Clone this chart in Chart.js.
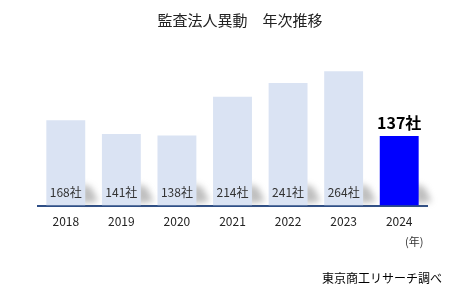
<!DOCTYPE html>
<html>
<head>
<meta charset="utf-8">
<script src="https://cdn.jsdelivr.net/npm/chart.js@4"></script>
<style>
  body { margin: 0; background: #fff; }
  #wrap { width: 465px; height: 296px; }
</style>
</head>
<body>
<div id="wrap"><canvas id="myChart" width="465" height="296"></canvas></div>
<script>
var years = ["2018", "2019", "2020", "2021", "2022", "2023", "2024"];
var counts = [168, 141, 138, 214, 241, 264, 137];
var unit = "社";
var barColors = ["#dae3f3", "#dae3f3", "#dae3f3", "#dae3f3", "#dae3f3", "#dae3f3", "#0000ff"];
var titleText = "監査法人異動　年次推移";
var sourceText = "東京商工リサーチ調べ";

var fontName = "'Noto Sans CJK JP', 'Noto Sans', sans-serif";

// soft grey shadow at the foot of every bar
var shadowPlugin = {
  id: "shadow",
  beforeDatasetsDraw: function (chart) {
    var ctx = chart.ctx;
    var meta = chart.getDatasetMeta(0);
    var base = chart.scales.y.getPixelForValue(0);
    ctx.save();
    ctx.filter = "blur(3px)";
    meta.data.forEach(function (bar) {
      var right = bar.x + bar.width / 2;
      ctx.fillStyle = "rgba(110,110,110,0.45)";
      ctx.beginPath();
      ctx.moveTo(right - 4, base - 22);
      ctx.lineTo(right + 6, base - 18);
      ctx.lineTo(right + 13, base - 4);
      ctx.lineTo(right - 4, base - 2);
      ctx.closePath();
      ctx.fill();
    });
    ctx.restore();
  }
};

var labelPlugin = {
  id: "labels",
  afterDatasetsDraw: function (chart) {
    var ctx = chart.ctx;
    var meta = chart.getDatasetMeta(0);
    var base = chart.scales.y.getPixelForValue(0);
    ctx.save();
    ctx.textAlign = "center";
    ctx.textBaseline = "middle";
    meta.data.forEach(function (bar, i) {
      if (i === counts.length - 1) {
        ctx.font = "bold 16px " + fontName;
        ctx.fillStyle = "#000";
        ctx.fillText(counts[i] + unit, bar.x, bar.y - 13);
      } else {
        ctx.font = "12px " + fontName;
        ctx.fillStyle = "#333";
        ctx.fillText(counts[i] + unit, bar.x, base - 13);
      }
    });
    ctx.font = "15px " + fontName;
    ctx.fillStyle = "#222";
    ctx.fillText(titleText, 240, 20);
    ctx.font = "11px " + fontName;
    ctx.fillStyle = "#333";
    ctx.fillText("(年)", meta.data[6].x + 15, base + 36);
    ctx.font = "12px " + fontName;
    ctx.fillStyle = "#000";
    ctx.textAlign = "right";
    ctx.fillText(sourceText, 442, 278);
    ctx.restore();
  }
};

var chart = new Chart(document.getElementById("myChart").getContext("2d"), {
  type: "bar",
  data: {
    labels: years,
    datasets: [{
      data: counts,
      backgroundColor: barColors,
      barPercentage: 0.7,
      categoryPercentage: 1.0
    }]
  },
  options: {
    responsive: false,
    animation: false,
    layout: { padding: { left: 38, right: 38, top: 53, bottom: 58 } },
    plugins: {
      legend: { display: false },
      tooltip: { enabled: false }
    },
    scales: {
      x: {
        grid: { display: false, drawTicks: false },
        border: { display: true, color: "#2f4f86", width: 2 },
        ticks: { color: "#222", font: { family: fontName, size: 12 }, padding: 9 }
      },
      y: {
        display: false,
        min: 0,
        max: 300
      }
    }
  },
  plugins: [shadowPlugin, labelPlugin]
});
</script>
</body>
</html>
